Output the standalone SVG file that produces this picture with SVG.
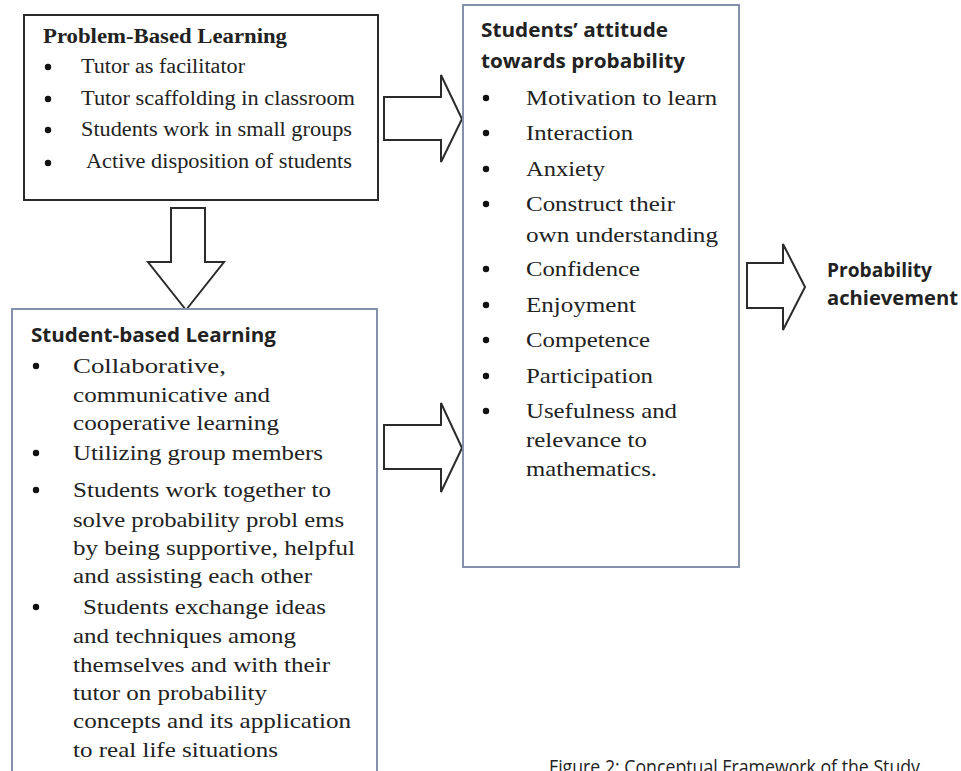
<svg xmlns="http://www.w3.org/2000/svg" width="961" height="771" viewBox="0 0 961 771">
<style>
.bg{fill:#fff}
.box1{fill:#fff;stroke:#2a2a2a;stroke-width:2}
.boxb{fill:#fff;stroke:#8391aa;stroke-width:2}
.arrow{fill:#fff;stroke:#2b2b2b;stroke-width:2;stroke-linejoin:miter}
.serif{font-family:"Liberation Serif","Times New Roman",serif;fill:#222}
.sansb{font-family:"Open Sans","Liberation Sans",sans-serif;font-weight:bold;fill:#222}
.sans{font-family:"Open Sans","Liberation Sans",sans-serif;fill:#222}
.t1{font-size:20px}
.t3{font-size:22px}
.t4{font-size:21px}
.dot{fill:#111}
</style>
<rect class="bg" x="0" y="0" width="961" height="771"/>

<g id="connectors">
  <path class="arrow" d="M384,97 H441 V75 L462,119 L441,162 V140 H384 Z"/>
  <path class="arrow" d="M171,208 H205 V262 H224 L186,310 L148,262 H171 Z"/>
  <path class="arrow" d="M384,425 H441 V403 L462,448 L441,492 V469 H384 Z"/>
  <path class="arrow" d="M747,263 H783 V244 L805,287 L783,330 V308 H747 Z"/>
</g>

<g id="pbl">
  <rect class="box1" x="24" y="15" width="354" height="185"/>
  <text class="serif t1" x="43" y="43" font-weight="bold" textLength="244" lengthAdjust="spacingAndGlyphs">Problem-Based Learning</text>
  <circle class="dot" cx="48" cy="67" r="3.2"/>
  <circle class="dot" cx="48" cy="99" r="3.2"/>
  <circle class="dot" cx="48" cy="130" r="3.2"/>
  <circle class="dot" cx="48" cy="163" r="3.2"/>
  <text class="serif t1" x="81" y="73" textLength="164" lengthAdjust="spacingAndGlyphs">Tutor as facilitator</text>
  <text class="serif t1" x="81" y="105" textLength="274" lengthAdjust="spacingAndGlyphs">Tutor scaffolding in classroom</text>
  <text class="serif t1" x="81" y="136" textLength="271" lengthAdjust="spacingAndGlyphs">Students work in small groups</text>
  <text class="serif t1" x="86" y="168" textLength="266" lengthAdjust="spacingAndGlyphs">Active disposition of students</text>
</g>

<g id="attitude">
  <rect class="boxb" x="463" y="5" width="276" height="562"/>
  <text class="sansb" font-size="19" x="481" y="37" textLength="187" lengthAdjust="spacingAndGlyphs">Students’ attitude</text>
  <text class="sansb" font-size="19" x="481" y="68" textLength="204" lengthAdjust="spacingAndGlyphs">towards probability</text>
  <circle class="dot" cx="486" cy="98" r="3.2"/>
  <circle class="dot" cx="486" cy="133" r="3.2"/>
  <circle class="dot" cx="486" cy="169" r="3.2"/>
  <circle class="dot" cx="486" cy="204" r="3.2"/>
  <circle class="dot" cx="486" cy="269" r="3.2"/>
  <circle class="dot" cx="486" cy="305" r="3.2"/>
  <circle class="dot" cx="486" cy="340" r="3.2"/>
  <circle class="dot" cx="486" cy="376" r="3.2"/>
  <circle class="dot" cx="486" cy="411" r="3.2"/>
  <text class="serif t3" x="526" y="105" textLength="191" lengthAdjust="spacingAndGlyphs">Motivation to learn</text>
  <text class="serif t3" x="526" y="140" textLength="107" lengthAdjust="spacingAndGlyphs">Interaction</text>
  <text class="serif t3" x="526" y="176" textLength="79" lengthAdjust="spacingAndGlyphs">Anxiety</text>
  <text class="serif t3" x="526" y="211" textLength="149" lengthAdjust="spacingAndGlyphs">Construct their</text>
  <text class="serif t3" x="526" y="242" textLength="192" lengthAdjust="spacingAndGlyphs">own understanding</text>
  <text class="serif t3" x="526" y="276" textLength="114" lengthAdjust="spacingAndGlyphs">Confidence</text>
  <text class="serif t3" x="526" y="312" textLength="110" lengthAdjust="spacingAndGlyphs">Enjoyment</text>
  <text class="serif t3" x="526" y="347" textLength="124" lengthAdjust="spacingAndGlyphs">Competence</text>
  <text class="serif t3" x="526" y="383" textLength="127" lengthAdjust="spacingAndGlyphs">Participation</text>
  <text class="serif t3" x="526" y="418" textLength="151" lengthAdjust="spacingAndGlyphs">Usefulness and</text>
  <text class="serif t3" x="526" y="447" textLength="121" lengthAdjust="spacingAndGlyphs">relevance to</text>
  <text class="serif t3" x="526" y="476" textLength="131" lengthAdjust="spacingAndGlyphs">mathematics.</text>
</g>

<g id="sbl">
  <rect class="boxb" x="12" y="309" width="365" height="480"/>
  <text class="sansb" font-size="19" x="31" y="342" textLength="245" lengthAdjust="spacingAndGlyphs">Student-based Learning</text>
  <circle class="dot" cx="36" cy="366" r="3.2"/>
  <circle class="dot" cx="36" cy="453" r="3.2"/>
  <circle class="dot" cx="36" cy="490" r="3.2"/>
  <circle class="dot" cx="36" cy="607" r="3.2"/>
  <text class="serif t4" x="73" y="373" textLength="153" lengthAdjust="spacingAndGlyphs">Collaborative,</text>
  <text class="serif t4" x="73" y="402" textLength="197" lengthAdjust="spacingAndGlyphs">communicative and</text>
  <text class="serif t4" x="73" y="430" textLength="206" lengthAdjust="spacingAndGlyphs">cooperative  learning</text>
  <text class="serif t4" x="73" y="460" textLength="250" lengthAdjust="spacingAndGlyphs">Utilizing group members</text>
  <text class="serif t4" x="73" y="497" textLength="258" lengthAdjust="spacingAndGlyphs">Students work together to</text>
  <text class="serif t4" x="73" y="527" textLength="271" lengthAdjust="spacingAndGlyphs">solve probability probl ems</text>
  <text class="serif t4" x="73" y="555" textLength="282" lengthAdjust="spacingAndGlyphs">by being supportive, helpful</text>
  <text class="serif t4" x="73" y="583" textLength="239" lengthAdjust="spacingAndGlyphs">and assisting each other</text>
  <text class="serif t4" x="83" y="614" textLength="243" lengthAdjust="spacingAndGlyphs">Students exchange ideas</text>
  <text class="serif t4" x="73" y="643" textLength="223" lengthAdjust="spacingAndGlyphs">and techniques among</text>
  <text class="serif t4" x="73" y="672" textLength="257" lengthAdjust="spacingAndGlyphs">themselves and with their</text>
  <text class="serif t4" x="73" y="700" textLength="194" lengthAdjust="spacingAndGlyphs">tutor on probability</text>
  <text class="serif t4" x="73" y="728" textLength="278" lengthAdjust="spacingAndGlyphs">concepts and its application</text>
  <text class="serif t4" x="73" y="757" textLength="205" lengthAdjust="spacingAndGlyphs">to real life situations</text>
</g>

<g id="achievement">
  <text class="sansb" font-size="19" x="827" y="277" textLength="105" lengthAdjust="spacingAndGlyphs">Probability</text>
  <text class="sansb" font-size="19" x="827" y="305" textLength="131" lengthAdjust="spacingAndGlyphs">achievement</text>
</g>

<g id="caption">
  <text class="sans" font-size="20" x="549" y="774" textLength="371" lengthAdjust="spacingAndGlyphs">Figure 2: Conceptual Framework of the Study</text>
</g>
</svg>
